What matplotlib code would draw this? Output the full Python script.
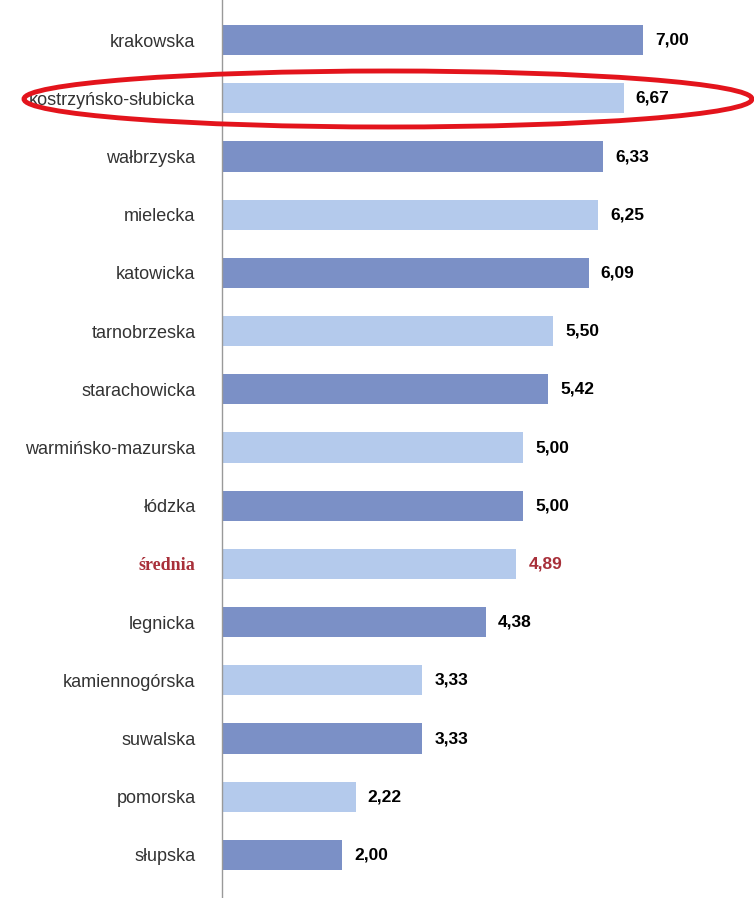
import matplotlib
matplotlib.use("Agg")
import matplotlib.pyplot as plt
from matplotlib.patches import Ellipse

# data
regions = ["krakowska", "kostrzyńsko-słubicka", "wałbrzyska", "mielecka", "katowicka",
           "tarnobrzeska", "starachowicka", "warmińsko-mazurska", "łódzka", "średnia",
           "legnicka", "kamiennogórska", "suwalska", "pomorska", "słupska"]
values = [7.00, 6.67, 6.33, 6.25, 6.09, 5.50, 5.42, 5.00, 5.00, 4.89,
          4.38, 3.33, 3.33, 2.22, 2.00]

dark = "#7b90c6"
light = "#b4caec"
colors = [dark if i % 2 == 0 else light for i in range(len(values))]

plt.rcParams['font.family'] = ['Liberation Sans', 'DejaVu Sans']

fig = plt.figure(figsize=(7.54, 8.98), dpi=100)
ax = fig.add_axes([222 / 754, 0, 1 - 222 / 754, 1])

pos = list(range(len(values)))
ax.barh(pos, values, height=0.52, color=colors)
ax.set_xlim(0, 532 / 60.2)
ax.set_ylim(14.74, -0.69)

for s in ["top", "right", "bottom"]:
    ax.spines[s].set_visible(False)
ax.spines["left"].set_color("#999999")
ax.spines["left"].set_linewidth(1)
ax.set_xticks([])
ax.set_yticks(pos)
ax.set_yticklabels(regions, fontsize=13, color="#333333")
ax.tick_params(axis="y", length=0, pad=19)

# the average row in red
lab = ax.get_yticklabels()[9]
lab.set_color("#a8303a")
lab.set_fontweight("bold")
lab.set_family(["Liberation Serif", "DejaVu Serif"])

for i, v in enumerate(values):
    col = "#a8303a" if i == 9 else "black"
    ax.text(v + 0.2, i, f"{v:.2f}".replace(".", ","), va="center", ha="left",
            fontsize=12.5, fontweight="bold", color=col)

# red highlight ellipse around the second row
ell = Ellipse((388 / 754, 1 - 99 / 898), 728 / 754, 56 / 898, transform=fig.transFigure,
              fill=False, edgecolor="#e3141c", linewidth=3.5)
fig.patches.append(ell)

fig.savefig("out.png", dpi=100)
